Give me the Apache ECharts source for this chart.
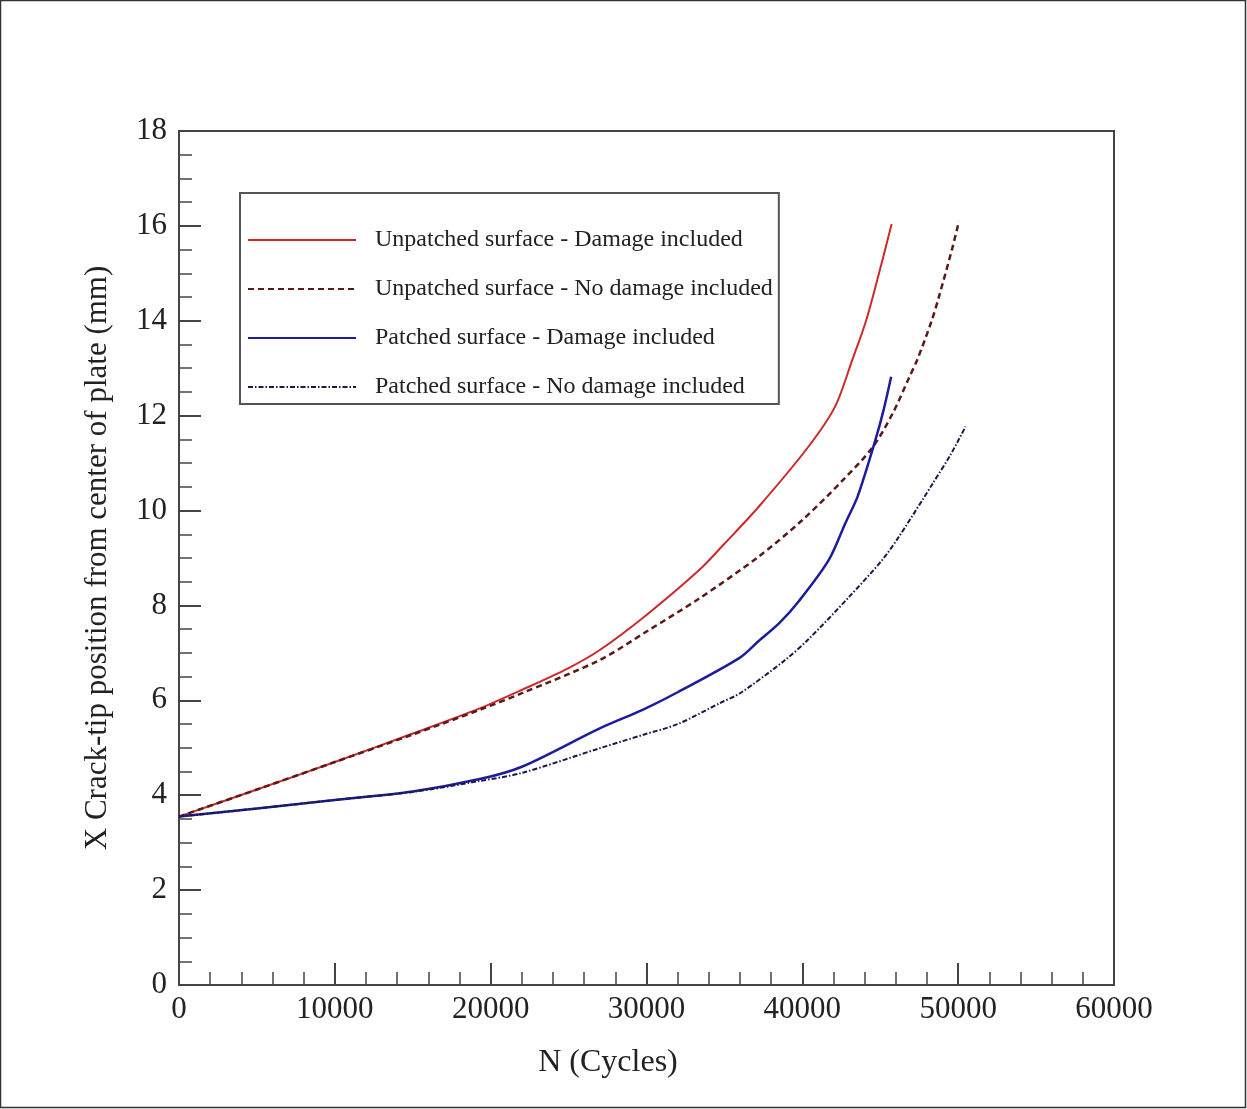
<!DOCTYPE html>
<html>
<head>
<meta charset="utf-8">
<title>Crack-tip position vs cycles</title>
<script src="https://cdn.jsdelivr.net/npm/echarts@6/dist/echarts.min.js"></script>
<style>
  html, body { margin: 0; padding: 0; background: #fff; }
  #chart { width: 1247px; height: 1109px; }
</style>
</head>
<body>
<div id="chart"></div>
<script>
// Crack-tip position (mm) versus load cycles for the four cases.
const seriesNames = [
  'Unpatched surface - Damage included',
  'Unpatched surface - No damage included',
  'Patched surface - Damage included',
  'Patched surface - No damage included'
];

const unpatchedDamageN = [0, 5000, 10000, 15000, 19300, 22000, 25000, 27000, 30000, 33400, 35000, 37200, 40400, 42100, 43200, 44100, 45000, 45730];
const unpatchedDamageX = [3.55, 4.12, 4.70, 5.30, 5.83, 6.22, 6.68, 7.06, 7.80, 8.75, 9.30, 10.08, 11.35, 12.19, 13.17, 14.01, 15.10, 16.04];

const unpatchedNoDamageN = [0, 5000, 10000, 15000, 19300, 22000, 27000, 30000, 33400, 37200, 40000, 42600, 44500, 45800, 46850, 47400, 48300, 48760, 49600, 50050];
const unpatchedNoDamageX = [3.55, 4.12, 4.70, 5.28, 5.80, 6.15, 6.85, 7.45, 8.15, 9.03, 9.80, 10.64, 11.33, 12.05, 12.80, 13.20, 14.00, 14.50, 15.50, 16.10];

const patchedDamageN = [0, 5000, 10000, 15000, 19300, 22000, 27000, 29750, 32000, 36000, 37200, 38500, 39800, 41700, 42780, 43550, 44700, 45200, 45700];
const patchedDamageX = [3.55, 3.72, 3.90, 4.08, 4.34, 4.60, 5.41, 5.80, 6.17, 6.90, 7.25, 7.62, 8.10, 8.96, 9.75, 10.30, 11.50, 12.10, 12.82];

const patchedNoDamageN = [0, 5000, 10000, 15000, 19300, 22000, 27000, 29750, 32000, 34700, 36000, 38900, 40430, 43000, 45130, 46200, 47700, 48330, 49500, 50470];
const patchedNoDamageX = [3.55, 3.72, 3.90, 4.07, 4.30, 4.47, 4.99, 5.27, 5.50, 5.94, 6.15, 6.85, 7.30, 8.18, 8.96, 9.45, 10.22, 10.55, 11.17, 11.77];

const xTicks = { min: 0, max: 60000, step: 10000 };
const yTicks = { min: 0, max: 18, step: 2 };

function pairs(ns, xs) {
  return ns.map(function (n, i) { return [n, xs[i]]; });
}

const serif = '"Liberation Serif", "DejaVu Serif", serif';
const ink = '#222';
const frame = '#444';

const chart = echarts.init(document.getElementById('chart'), null, { renderer: 'canvas' });

function lineSeries(name, data, color, width, dash) {
  return {
    name: name,
    type: 'line',
    data: data,
    symbol: 'none',
    smooth: 0.3,
    lineStyle: { color: color, width: width, type: dash },
    itemStyle: { color: color },
    emphasis: { disabled: true },
    z: 3
  };
}

chart.setOption({
  animation: false,
  backgroundColor: '#fff',
  textStyle: { fontFamily: serif, color: ink },
  graphic: [{
    type: 'rect',
    shape: { x: 0.5, y: 0.5, width: 1245, height: 1107 },
    style: { fill: 'none', stroke: '#333', lineWidth: 1.5 },
    silent: true
  }],
  grid: {
    left: 179, right: 133, top: 131, bottom: 124,
    show: true, borderColor: frame, borderWidth: 2, backgroundColor: 'transparent'
  },
  legend: {
    orient: 'vertical',
    left: 240, top: 193,
    padding: [35, 6, 5, 7],
    itemWidth: 108, itemHeight: 24, itemGap: 25,
    backgroundColor: '#fff',
    borderColor: '#555', borderWidth: 2,
    selectedMode: false,
    itemStyle: { opacity: 0 },
    textStyle: { fontFamily: serif, fontSize: 24, color: ink, padding: [0, 0, 0, 14], lineHeight: 24 },
    data: seriesNames
  },
  xAxis: {
    type: 'value',
    min: xTicks.min, max: xTicks.max, interval: xTicks.step,
    name: 'N (Cycles)',
    nameLocation: 'middle', nameGap: 62,
    nameTextStyle: { fontFamily: serif, fontSize: 32, color: ink, padding: [0, 77, 0, 0] },
    axisLine: { show: true, lineStyle: { color: frame, width: 2 } },
    axisTick: { show: true, inside: true, length: 22, lineStyle: { color: frame, width: 2 } },
    minorTick: { show: true, splitNumber: 5, length: 13, lineStyle: { color: frame, width: 1.5 } },
    splitLine: { show: false },
    axisLabel: { fontFamily: serif, fontSize: 31, color: ink, margin: 9, formatter: function (v) { return String(v); } }
  },
  yAxis: {
    type: 'value',
    min: yTicks.min, max: yTicks.max, interval: yTicks.step,
    name: 'X Crack-tip position from center of plate (mm)',
    nameLocation: 'middle', nameGap: 66,
    nameTextStyle: { fontFamily: serif, fontSize: 31, color: ink },
    axisLine: { show: true, lineStyle: { color: frame, width: 2 } },
    axisTick: { show: true, inside: true, length: 22, lineStyle: { color: frame, width: 2 } },
    minorTick: { show: true, splitNumber: 4, length: 13, lineStyle: { color: frame, width: 1.5 } },
    splitLine: { show: false },
    axisLabel: { fontFamily: serif, fontSize: 31, color: ink, margin: 12 }
  },
  series: [
    lineSeries(seriesNames[0], pairs(unpatchedDamageN, unpatchedDamageX), '#cc2a2a', 2, 'solid'),
    lineSeries(seriesNames[1], pairs(unpatchedNoDamageN, unpatchedNoDamageX), '#5a1a1a', 2.5, [6, 4]),
    lineSeries(seriesNames[2], pairs(patchedDamageN, patchedDamageX), '#1c1c9c', 2.5, 'solid'),
    lineSeries(seriesNames[3], pairs(patchedNoDamageN, patchedNoDamageX), '#1a1a4a', 2, [5, 2, 1.5, 2])
  ]
});
</script>
</body>
</html>
